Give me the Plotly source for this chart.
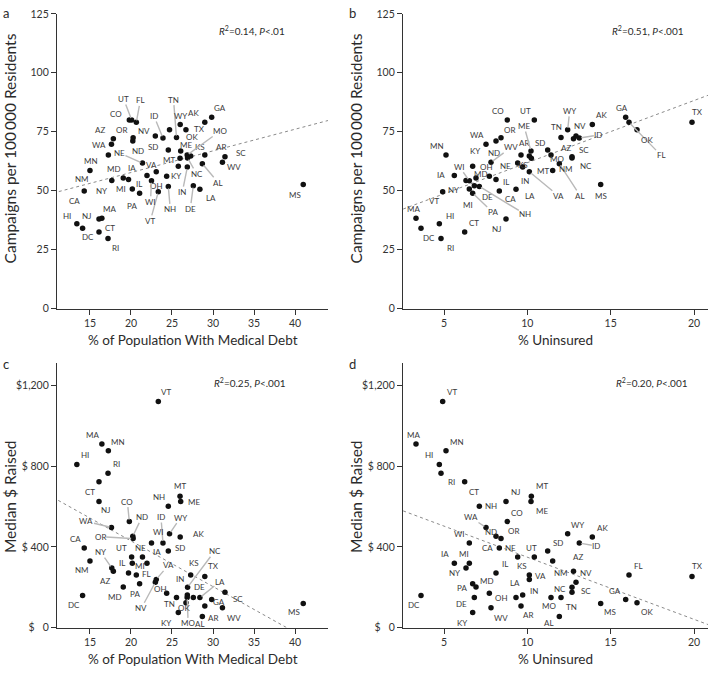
import plotly.graph_objects as go

W, H = 708, 673

# ---------------------------------------------------------------
# data, one value per state
# ---------------------------------------------------------------
states = ["AL", "AK", "AZ", "AR", "CA", "CO", "CT", "DE", "DC", "FL",
          "GA", "HI", "ID", "IL", "IN", "IA", "KS", "KY", "LA", "ME",
          "MD", "MA", "MI", "MN", "MS", "MO", "MT", "NE", "NV", "NH",
          "NJ", "NM", "NY", "NC", "ND", "OH", "OK", "OR", "PA", "RI",
          "SC", "SD", "TN", "TX", "UT", "VT", "VA", "WA", "WV", "WI", "WY"]

medical_debt = [28.7, 26.0, 17.85, 29.0, 14.3, 19.8, 16.1, 27.6, 14.1, 20.65,
                29.84, 13.4, 23.9, 19.7, 26.87, 21.95, 27.28, 25.77, 28.4, 26.06,
                19.06, 16.45, 20.16, 17.24, 41.0, 26.85, 25.98, 21.4, 22.97, 24.55,
                16.1, 15.0, 17.66, 26.9, 20.22, 24.35, 26.7, 20.26, 21.05, 17.2,
                31.46, 24.55, 25.55, 29.0, 20.08, 23.33, 23.08, 17.62, 31.15, 22.5, 24.7]

uninsured = [11.92, 13.9, 12.77, 9.62, 8.32, 8.8, 6.24, 6.82, 3.62, 16.1,
             15.9, 4.72, 13.12, 8.12, 9.72, 5.62, 10.12, 6.72, 9.32, 10.22,
             6.92, 3.32, 6.52, 5.12, 14.4, 11.42, 10.24, 9.42, 12.92, 7.12,
             8.72, 11.52, 6.32, 12.68, 8.12, 7.72, 16.58, 8.42, 6.72, 4.82,
             12.68, 11.22, 12.02, 19.88, 10.42, 4.92, 10.12, 7.52, 7.82, 6.52, 12.42]

campaigns = [61.4, 78.1, 72.0, 65.1, 49.9, 80.0, 32.5, 52.1, 34.1, 79.0,
             81.1, 36.0, 72.3, 54.7, 60.0, 56.4, 64.7, 60.3, 50.6, 66.8,
             55.4, 38.3, 50.7, 65.1, 52.6, 65.1, 63.75, 61.7, 73.2, 51.8,
             38.0, 58.6, 54.3, 63.9, 71.05, 56.1, 75.8, 72.4, 48.9, 29.7,
             64.4, 67.2, 72.5, 79.0, 80.0, 49.5, 58.0, 69.7, 62.0, 54.2, 75.8]

median_raised = [55, 449, 279, 108, 395, 525, 722, 149, 160, 261,
                 139, 808, 419, 271, 162, 319, 261, 75, 149, 625,
                 201, 909, 319, 876, 120, 150, 651, 350, 225, 601,
                 625, 330, 295, 200, 452, 170, 124, 441, 218, 764,
                 175, 379, 149, 254, 350, 1119, 239, 496, 99, 419, 465]

# fitted lines as drawn in the figure (end points)
trend_debt_x = [11.2, 44.3]
trend_debt_campaigns = [49.6, 80.0]
trend_unins_x = [2.55, 20.86]
trend_unins_campaigns = [42.2, 90.5]
trend_debt_x_money = [11.13, 39.0]
trend_debt_money = [630, 0]
trend_unins_money = [578, 15]

debt_ticks = [15, 20, 25, 30, 35, 40]
unins_ticks = [5, 10, 15, 20]
camp_ticks = [0, 25, 50, 75, 100, 125]
money_ticks = [0, 400, 800, 1200]
money_text = ["$\u00a0\u00a0\u00a00", "$\u00a0400", "$\u00a0800", "$1,200"]

# ---------------------------------------------------------------
# label placement (pixel offsets of each state label from its dot)
# ---------------------------------------------------------------
labels_a = {
    "UT": (-8, -21), "FL": (4, -22), "CO": (-13, -6), "TN": (-3, -38), "ID": (-9, -22),
    "WY": (11, -14), "AK": (13, -11), "GA": (8, -9), "TX": (-5, 7), "NV": (-11, -5),
    "AZ": (-13, -9), "OR": (-12, -8), "WA": (-12, 1), "ND": (5, 10), "SD": (-15, -3),
    "ME": (5, -6), "OK": (6, 7), "MO": (33, -24), "KS": (9, -9), "AR": (16, -8),
    "SC": (16, -4), "WV": (12, 5), "MN": (-17, 6), "NE": (-23, -10), "MT": (-11, 2),
    "VA": (-5, -7), "IA": (-15, -8), "MD": (-9, -9), "NC": (9, 16), "AL": (16, 19),
    "KY": (-2, 10), "IN": (-5, 25), "DE": (-3, 23), "LA": (11, 9), "NH": (2, 23),
    "VT": (-8, 29), "WI": (-1, 21), "OH": (-10, 10), "IL": (10, 4), "MI": (-11, 0),
    "PA": (-8, 13), "NY": (-10, 10), "NM": (-8, 9), "CA": (-10, 10), "HI": (-10, -8),
    "NJ": (-12, -3), "MA": (8, -9), "CT": (11, -4), "DC": (5, 9), "RI": (7, 10),
    "MS": (-8, 10),
}
leaders_a = ["UT", "FL", "TN", "ID", "MO", "NE", "NC", "AL", "IN", "DE", "NH", "VT", "WI"]

labels_b = {
    "CO": (-9, -9), "UT": (-9, -9), "WY": (2, -19), "AK": (9, -9), "GA": (-4, -9),
    "TX": (5, -10), "OK": (10, 10), "FL": (32, 33), "TN": (-5, -11), "NV": (4, -10),
    "ID": (19, -3), "AZ": (-8, 9), "SC": (12, -7), "NC": (14, 8), "MS": (0, 11),
    "OR": (8, -8), "WA": (-9, -9), "ME": (-7, -25), "AR": (3, -12), "SD": (-8, -7),
    "MN": (-9, -9), "KY": (2, -15), "ND": (-2, 12), "WV": (20, -15), "MO": (6, 4),
    "KS": (-6, 9), "NE": (-12, 3), "OH": (-3, -9), "WI": (-10, -14), "MD": (5, -4),
    "IA": (-13, -1), "IN": (2, 14), "IL": (10, 2), "MT": (12, 13), "NM": (13, -1),
    "NY": (-13, 9), "VT": (-9, 9), "DE": (13, 11), "CA": (11, 8), "LA": (14, 7),
    "VA": (29, 24), "AL": (21, 32), "MI": (-1, 16), "PA": (20, 19), "NH": (46, 28),
    "MA": (-3, -9), "HI": (11, -8), "CT": (9, -9), "NJ": (-9, 10), "DC": (8, 10),
    "RI": (9, 10),
}
leaders_b = ["WY", "FL", "ID", "ME", "WV", "WI", "MT", "VA", "AL", "PA", "NH"]

labels_c = {
    "VT": (8, -10), "MA": (-9, -9), "MN": (10, -9), "HI": (8, -9), "RI": (8, -9),
    "CT": (-9, 10), "NJ": (7, 9), "CO": (-2, -20), "MT": (0, -10), "NH": (-9, -9),
    "ME": (13, 1), "WA": (-25, -6), "ND": (9, -19), "ID": (-2, -26), "WY": (11, -16),
    "WI": (7, -11), "AK": (18, -3), "OR": (-33, -2), "CA": (-9, -9), "UT": (-10, -9),
    "NE": (-2, -9), "IA": (10, -11), "SD": (12, -3), "NY": (-11, -16), "NM": (-8, 9),
    "IL": (-7, -10), "MI": (8, 3), "VA": (12, -14), "KS": (3, -12), "NC": (27, -36),
    "TX": (9, -10), "FL": (10, -1), "AZ": (-8, 10), "IN": (-7, -16), "LA": (20, -16),
    "DE": (6, -11), "PA": (-5, 10), "MD": (-8, 10), "OH": (-6, -4), "NV": (-14, 26),
    "TN": (-7, 6), "OK": (-2, 5), "SC": (13, 7), "GA": (7, 2), "DC": (-9, 10),
    "KY": (-12, 10), "MO": (1, 26), "AL": (-2, 7), "AR": (8, 12), "WV": (12, 10),
    "MS": (-9, 9),
}
leaders_c = ["CO", "WA", "ND", "OR", "NY", "ID", "WY", "NC", "LA", "VA", "NV", "MO"]

labels_d = {
    "VT": (9, -10), "MA": (-3, -9), "MN": (11, -9), "HI": (-10, -9), "RI": (10, 9),
    "CT": (9, 10), "NJ": (10, -9), "MT": (11, -10), "ME": (11, 10), "NH": (12, 0),
    "CO": (10, -9), "WA": (-15, -10), "ND": (-5, -4), "OR": (12, -8), "WI": (-10, -9),
    "CA": (-12, 0), "NE": (-7, -9), "UT": (-3, -9), "SD": (10, -8), "WY": (10, -9),
    "AK": (10, -9), "ID": (17, 3), "AZ": (4, -14), "IA": (-9, -9), "MI": (-5, -9),
    "NY": (-12, 5), "IL": (9, -9), "KS": (-7, -9), "VA": (11, -3), "NM": (8, 12),
    "NV": (10, -9), "MD": (11, -6), "PA": (-11, 4), "LA": (-1, -15), "IN": (11, -4),
    "NC": (-12, 2), "SC": (14, -1), "OH": (12, 5), "DE": (-13, 6), "MO": (-2, 9),
    "TN": (10, 9), "AR": (7, 9), "WV": (10, 10), "KY": (-11, 10), "AL": (-10, 6),
    "MS": (9, 9), "GA": (-11, -9), "OK": (10, 9), "FL": (9, -9), "TX": (5, -10),
    "DC": (-7, 10),
}
leaders_d = ["WA", "ID"]


def px_x(p):
    return p / W


def px_y(p):
    return 1 - p / H


FONT = "Lato"
INK = "#2b2b2b"
DEBT_RANGE = [10.98, 44.02]
UNINS_RANGE = [2.54, 20.84]

panels = [
    dict(x=medical_debt, y=campaigns, xa="x", ya="y", labels=labels_a, leaders=leaders_a,
         tx=trend_debt_x, ty=trend_debt_campaigns,
         letter="a", letter_px=(6, 7), stat="<i>R</i><sup>2</sup>=0.14, <i>P</i>&lt;.01",
         stat_px=(252, 25)),
    dict(x=uninsured, y=campaigns, xa="x2", ya="y2", labels=labels_b, leaders=leaders_b,
         tx=trend_unins_x, ty=trend_unins_campaigns,
         letter="b", letter_px=(352, 7), stat="<i>R</i><sup>2</sup>=0.51, <i>P</i>&lt;.001",
         stat_px=(648, 25)),
    dict(x=medical_debt, y=median_raised, xa="x3", ya="y3", labels=labels_c, leaders=leaders_c,
         tx=trend_debt_x_money, ty=trend_debt_money,
         letter="c", letter_px=(6, 365), stat="<i>R</i><sup>2</sup>=0.25, <i>P</i>&lt;.001",
         stat_px=(250, 383)),
    dict(x=uninsured, y=median_raised, xa="x4", ya="y4", labels=labels_d, leaders=leaders_d,
         tx=trend_unins_x, ty=trend_unins_money,
         letter="d", letter_px=(352, 365), stat="<i>R</i><sup>2</sup>=0.20, <i>P</i>&lt;.001",
         stat_px=(652, 383)),
]

fig = go.Figure()
annotations = []

for p in panels:
    fig.add_trace(go.Scatter(x=p["tx"], y=p["ty"], mode="lines",
                             line=dict(color="#8a8a8a", width=1, dash="dot"),
                             xaxis=p["xa"], yaxis=p["ya"], hoverinfo="skip",
                             showlegend=False))

    fig.add_trace(go.Scatter(x=p["x"], y=p["y"], mode="markers", text=states,
                             marker=dict(size=5.5, color="#111111"),
                             xaxis=p["xa"], yaxis=p["ya"], showlegend=False))

    for st, xv, yv in zip(states, p["x"], p["y"]):
        dx, dy = p["labels"].get(st, (8, -9))
        common = dict(x=xv, y=yv, xref=p["xa"], yref=p["ya"], text=st,
                      font=dict(family=FONT, size=8, color="#3a3a3a"))
        if st in p["leaders"]:
            annotations.append(dict(common, showarrow=True, ax=dx, ay=dy,
                                    arrowhead=0, arrowwidth=1.4,
                                    arrowcolor="#b9b9b9", standoff=2,
                                    borderpad=0))
        else:
            annotations.append(dict(common, showarrow=False,
                                    xshift=dx, yshift=-dy))

    lx, ly = p["letter_px"]
    annotations.append(dict(x=px_x(lx), y=px_y(ly), xref="paper", yref="paper",
                            xanchor="center", yanchor="middle",
                            text=p["letter"], showarrow=False,
                            font=dict(family=FONT, size=13, color=INK)))
    sx, sy = p["stat_px"]
    annotations.append(dict(x=px_x(sx), y=px_y(sy), xref="paper", yref="paper",
                            xanchor="center", yanchor="middle",
                            text=p["stat"], showarrow=False,
                            font=dict(family=FONT, size=10, color=INK)))

# axis titles
for cx, cy, txt, ang, size in [
    (10, 145, "Campaigns per 100\u2009000 Residents", -90, 15.5),
    (356, 145, "Campaigns per 100\u2009000 Residents", -90, 15.5),
    (10, 500, "Median $ Raised", -90, 15.5),
    (356, 500, "Median $ Raised", -90, 15.5),
    (193, 340, "% of Population With Medical Debt", 0, 13.5),
    (555, 340, "% Uninsured", 0, 13.5),
    (193, 665, "% of Population With Medical Debt", 0, 13.5),
    (555, 665, "% Uninsured", 0, 13.5),
]:
    annotations.append(dict(x=px_x(cx), y=px_y(cy), xref="paper", yref="paper",
                            xanchor="center", yanchor="middle",
                            text=txt, textangle=ang, showarrow=False,
                            font=dict(family=FONT, size=size, color=INK)))

axis_style = dict(showline=True, linecolor="#333333", linewidth=1.2,
                  ticks="outside", ticklen=5, tickcolor="#333333", tickwidth=1,
                  showgrid=False, zeroline=False,
                  tickfont=dict(family=FONT, size=10.5, color="#333333"))

dom_x_left = [px_x(57), px_x(328)]
dom_x_right = [px_x(403), 1.0]
dom_y_top = [px_y(308), px_y(8)]
dom_y_bot = [px_y(633), px_y(363)]

fig.update_layout(
    width=W, height=H,
    margin=dict(l=0, r=0, t=0, b=0),
    paper_bgcolor="white", plot_bgcolor="white",
    font=dict(family=FONT, color=INK),
    hovermode=False,
    xaxis=dict(axis_style, domain=dom_x_left, range=DEBT_RANGE, tickvals=debt_ticks, anchor="y"),
    yaxis=dict(axis_style, domain=dom_y_top, range=[0, 125], tickvals=camp_ticks, anchor="x"),
    xaxis2=dict(axis_style, domain=dom_x_right, range=UNINS_RANGE, tickvals=unins_ticks, anchor="y2"),
    yaxis2=dict(axis_style, domain=dom_y_top, range=[0, 125], tickvals=camp_ticks, anchor="x2"),
    xaxis3=dict(axis_style, domain=dom_x_left, range=DEBT_RANGE, tickvals=debt_ticks, anchor="y3"),
    yaxis3=dict(axis_style, domain=dom_y_bot, range=[0, 1312], tickvals=money_ticks,
                ticktext=money_text, anchor="x3"),
    xaxis4=dict(axis_style, domain=dom_x_right, range=UNINS_RANGE, tickvals=unins_ticks, anchor="y4"),
    yaxis4=dict(axis_style, domain=dom_y_bot, range=[0, 1312], tickvals=money_ticks,
                ticktext=money_text, anchor="x4"),
    annotations=annotations,
)

# page body has a default margin; drop it so the figure sits at the corner
fig.write_html("out.html", config={"displayModeBar": False},
               post_script="document.body.style.margin='0';")
